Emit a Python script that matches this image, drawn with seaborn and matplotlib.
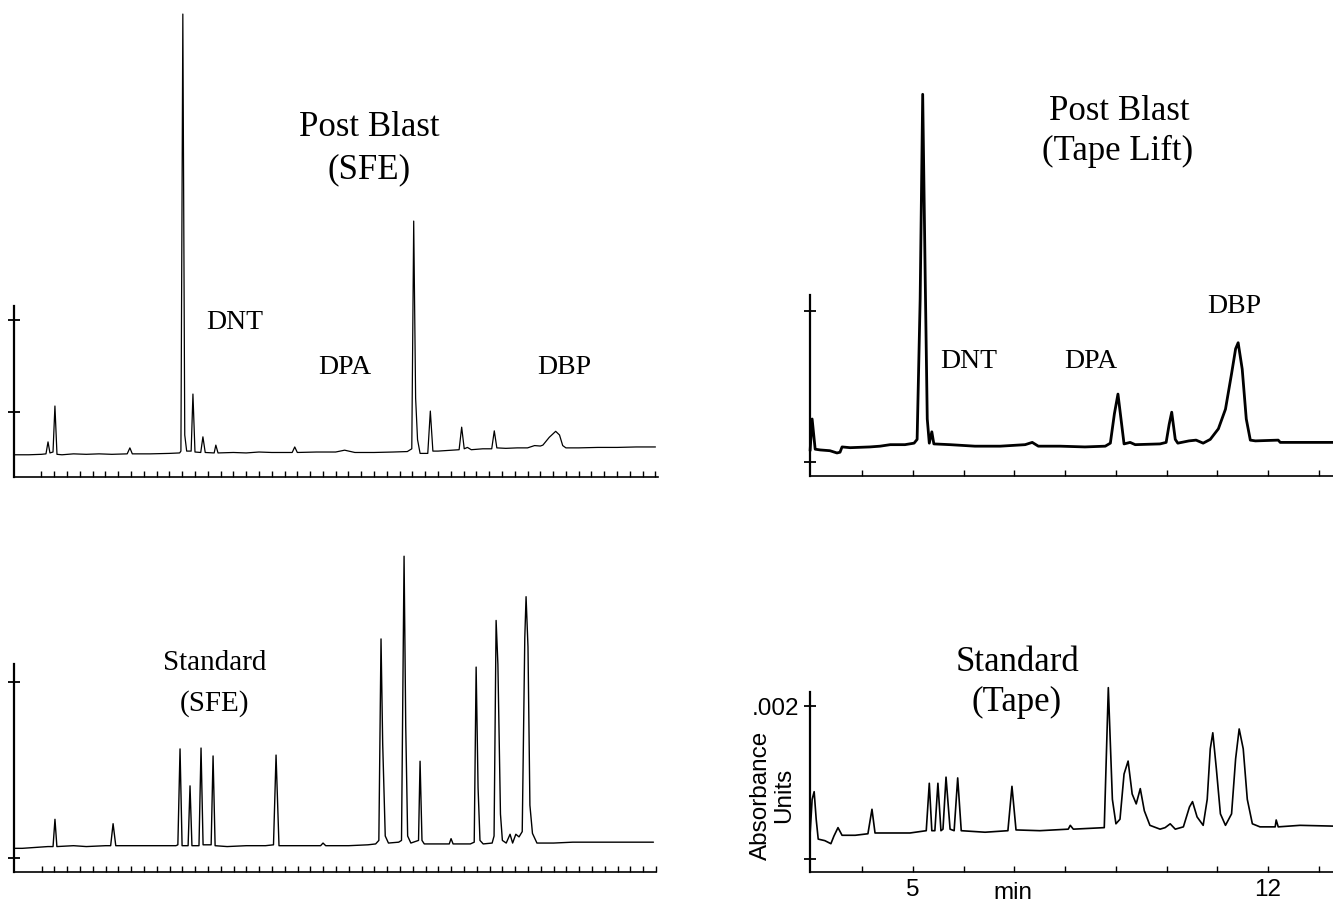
import matplotlib
matplotlib.use("Agg")
import matplotlib.pyplot as plt
import seaborn as sns

# ---- data ----
# SFE runs: x in tick units (one small tick = 1), y in relative mAU (lower y tick = 0, upper = 2)
sfe_blast_t = [-2.15, -1.0, 0.0, 0.35, 0.51, 0.66, 0.90, 1.05, 1.21, 1.6, 2.5, 3.5, 4.5, 5.5,
               6.7, 6.91, 7.1, 8.5, 10.0, 10.8, 10.9, 11.05, 11.2, 11.35, 11.7, 11.84, 12.0,
               12.45, 12.62, 12.8, 13.5, 13.63, 13.8, 15.0, 16.0, 17.0, 18.0, 19.6, 19.8, 20.0,
               21.5, 23.0, 23.7, 24.5, 26.0, 27.5, 28.6, 28.95, 29.1, 29.25, 29.4, 29.6, 30.2,
               30.4, 30.6, 31.0, 32.65, 32.85, 33.05, 33.3, 33.6, 34.5, 35.2, 35.4, 35.6, 36.3,
               37.2, 38.0, 38.55, 39.0, 39.2, 39.7, 40.2, 40.5, 40.75, 41.0, 42.0, 43.5, 45.0,
               46.5, 48.0]
sfe_blast_y = [-0.93, -0.93, -0.92, -0.91, -0.65, -0.89, -0.87, 0.13, -0.92, -0.93, -0.91, -0.92,
               -0.91, -0.92, -0.91, -0.78, -0.91, -0.91, -0.90, -0.89, -0.85, 8.65, -0.5, -0.85,
               -0.85, 0.39, -0.87, -0.88, -0.54, -0.88, -0.89, -0.72, -0.89, -0.88, -0.89, -0.87,
               -0.88, -0.88, -0.76, -0.88, -0.87, -0.87, -0.83, -0.88, -0.88, -0.87, -0.86, -0.80,
               4.15, 0.3, -0.6, -0.9, -0.9, 0.02, -0.85, -0.85, -0.82, -0.33, -0.80, -0.77, -0.82,
               -0.80, -0.80, -0.41, -0.78, -0.79, -0.78, -0.78, -0.73, -0.74, -0.72, -0.55, -0.42,
               -0.50, -0.73, -0.78, -0.78, -0.77, -0.77, -0.76, -0.76]

sfe_std_t = [-2.15, -1.5, -0.5, 0.5, 0.9, 1.05, 1.2, 2.5, 3.5, 5.0, 5.4, 5.59, 5.8, 7.0, 8.5,
             10.5, 10.65, 10.82, 10.98, 11.45, 11.60, 11.75, 12.3, 12.46, 12.62, 13.25, 13.40,
             13.56, 14.5, 16.0, 17.5, 18.12, 18.32, 18.55, 19.5, 21.0, 21.8, 21.99, 22.2, 24.0,
             25.5, 26.1, 26.35, 26.52, 26.65, 26.85, 27.1, 27.9, 28.12, 28.32, 28.45, 28.6,
             28.85, 29.45, 29.57, 29.72, 29.9, 31.0, 31.85, 31.99, 32.15, 33.5, 33.8, 33.95,
             34.1, 34.25, 34.5, 35.2, 35.35, 35.51, 35.65, 35.85, 36.0, 36.3, 36.6, 36.8, 37.05,
             37.3, 37.55, 37.75, 37.85, 38.0, 38.15, 38.35, 38.7, 40.0, 41.5, 43.0, 44.5, 46.0,
             47.8]
sfe_std_y = [0.11, 0.11, 0.12, 0.13, 0.13, 0.44, 0.13, 0.14, 0.13, 0.14, 0.14, 0.39, 0.14, 0.14,
             0.14, 0.14, 0.15, 1.24, 0.14, 0.14, 0.82, 0.14, 0.14, 1.25, 0.15, 0.15, 1.16, 0.14,
             0.13, 0.14, 0.14, 0.15, 1.17, 0.14, 0.14, 0.14, 0.14, 0.17, 0.14, 0.14, 0.15, 0.16,
             0.20, 2.49, 1.3, 0.25, 0.17, 0.18, 0.2, 3.43, 1.5, 0.25, 0.17, 0.2, 1.10, 0.2, 0.16,
             0.16, 0.16, 0.22, 0.16, 0.16, 0.18, 2.17, 0.8, 0.2, 0.16, 0.17, 0.25, 2.70, 2.2,
             0.5, 0.2, 0.17, 0.27, 0.17, 0.27, 0.24, 0.30, 2.5, 2.97, 2.4, 0.6, 0.28, 0.17, 0.17,
             0.18, 0.18, 0.18, 0.18, 0.18]

# Tape runs: x in minutes, y in mAU (upper tick = .002 AU)
tape_blast_t = [2.97, 3.01, 3.07, 3.17, 3.36, 3.50, 3.56, 3.60, 3.76, 4.15, 4.35, 4.55, 4.84,
                5.02, 5.08, 5.14, 5.19, 5.24, 5.28, 5.32, 5.37, 5.41, 5.73, 6.22, 6.72, 7.21,
                7.35, 7.47, 7.90, 8.39, 8.79, 8.89, 8.97, 9.04, 9.10, 9.16, 9.28, 9.38, 9.87,
                9.99, 10.05, 10.10, 10.17, 10.22, 10.44, 10.58, 10.72, 10.86, 11.02, 11.16, 11.28,
                11.36, 11.41, 11.49, 11.57, 11.65, 11.75, 12.20, 12.24, 12.63, 13.28]
tape_blast_y = [0.15, 0.57, 0.17, 0.16, 0.15, 0.12, 0.13, 0.20, 0.19, 0.20, 0.21, 0.23, 0.23,
                0.25, 0.30, 2.16, 4.87, 2.42, 0.57, 0.25, 0.40, 0.24, 0.23, 0.21, 0.21, 0.23,
                0.26, 0.21, 0.21, 0.20, 0.21, 0.25, 0.64, 0.90, 0.57, 0.24, 0.26, 0.23, 0.24,
                0.26, 0.50, 0.66, 0.30, 0.25, 0.28, 0.29, 0.25, 0.30, 0.44, 0.70, 1.17, 1.50,
                1.58, 1.23, 0.57, 0.29, 0.28, 0.29, 0.26, 0.26, 0.26]

tape_std_t = [2.97, 3.01, 3.05, 3.09, 3.13, 3.26, 3.38, 3.44, 3.52, 3.60, 3.86, 4.11, 4.19, 4.25,
              4.55, 4.94, 5.26, 5.32, 5.37, 5.43, 5.49, 5.55, 5.59, 5.65, 5.73, 5.81, 5.88, 5.95,
              6.42, 6.87, 6.95, 7.03, 7.50, 8.06, 8.10, 8.16, 8.77, 8.85, 8.93, 9.00, 9.08, 9.16,
              9.24, 9.32, 9.40, 9.48, 9.56, 9.67, 9.87, 9.97, 10.07, 10.17, 10.33, 10.45, 10.51,
              10.60, 10.72, 10.80, 10.86, 10.91, 10.98, 11.06, 11.16, 11.28, 11.36, 11.43, 11.51,
              11.59, 11.69, 11.84, 12.14, 12.16, 12.20, 12.63, 13.28]
tape_std_y = [0.33, 0.78, 0.88, 0.52, 0.26, 0.24, 0.20, 0.30, 0.41, 0.31, 0.31, 0.33, 0.65, 0.34,
              0.34, 0.34, 0.37, 0.99, 0.37, 0.37, 0.99, 0.37, 0.39, 1.07, 0.39, 0.37, 1.06, 0.37,
              0.35, 0.37, 0.95, 0.38, 0.37, 0.39, 0.44, 0.39, 0.41, 2.24, 0.78, 0.46, 0.52, 1.11,
              1.28, 0.85, 0.72, 0.92, 0.63, 0.44, 0.39, 0.41, 0.46, 0.39, 0.42, 0.68, 0.75, 0.55,
              0.44, 0.78, 1.44, 1.65, 1.18, 0.59, 0.44, 0.59, 1.31, 1.70, 1.44, 0.78, 0.46, 0.42,
              0.42, 0.51, 0.42, 0.44, 0.43]

sfe_ticks = list(range(0, 49))
tape_ticks = list(range(4, 14))
tape_tick_labels = ["", "5", "", "", "", "", "", "", "12", ""]

sns.set_theme(style="white")
plt.rcParams["font.family"] = ["Liberation Serif", "DejaVu Serif"]
plt.rcParams["text.color"] = "black"
plt.rcParams["xtick.color"] = "black"
plt.rcParams["ytick.color"] = "black"
SANS = ["Liberation Sans", "DejaVu Sans"]

W, H = 1333, 903
fig = plt.figure(figsize=(W / 100, H / 100), dpi=100)
fig.patch.set_facecolor("white")


def px_axes(left, top, right, bottom):
    return fig.add_axes([left / W, 1 - bottom / H, (right - left) / W, (bottom - top) / H])


def draw_panel(ax, t, y, lw, xlim, ylim, xticks):
    sns.lineplot(x=t, y=y, ax=ax, color="black", linewidth=lw, sort=False,
                 estimator=None, clip_on=False)
    ax.set_xlim(xlim)
    ax.set_ylim(ylim)
    ax.set_xlabel("")
    ax.set_ylabel("")
    ax.patch.set_visible(False)
    for s in ["top", "right"]:
        ax.spines[s].set_visible(False)
    ax.spines["left"].set_color("black")
    ax.spines["bottom"].set_color("black")
    ax.spines["left"].set_linewidth(1.6)
    ax.spines["bottom"].set_linewidth(1.2)
    ax.set_xticks(xticks)
    ax.set_yticks([0, 2])
    ax.tick_params(axis="x", direction="in", length=4, width=1, colors="black",
                   labelbottom=False, bottom=True)
    ax.tick_params(axis="y", direction="inout", length=8, width=1.3, colors="black",
                   labelleft=False, left=True)


# top-left: Post Blast (SFE)
ax1 = px_axes(14, 307, 658, 478)
draw_panel(ax1, sfe_blast_t, sfe_blast_y, 0.9, (-2.15, 48.2), (-1.413, 2.304), sfe_ticks)
ax1.text(25.6, 6.20, "Post Blast", fontsize=25, ha="center", va="center")
ax1.text(25.6, 5.28, "(SFE)", fontsize=25, ha="center", va="center")
ax1.text(15.1, 1.96, "DNT", fontsize=20, ha="center", va="center")
ax1.text(23.7, 0.98, "DPA", fontsize=20, ha="center", va="center")
ax1.text(40.9, 0.98, "DBP", fontsize=20, ha="center", va="center")

# bottom-left: Standard (SFE)
ax2 = px_axes(14, 665, 656, 873)
draw_panel(ax2, sfe_std_t, sfe_std_y, 1.0, (-2.15, 48.0), (-0.159, 2.205), sfe_ticks)
ax2.text(13.5, 2.23, "Standard", fontsize=21, ha="center", va="center")
ax2.text(13.5, 1.77, "(SFE)", fontsize=21, ha="center", va="center")

# top-right: Post Blast (Tape Lift)
ax3 = px_axes(810, 296, 1333, 477)
draw_panel(ax3, tape_blast_t, tape_blast_y, 2.0, (2.968, 13.28), (-0.185, 2.212), tape_ticks)
ax3.text(9.06, 4.65, "Post Blast", fontsize=25, ha="center", va="center")
ax3.text(9.04, 4.12, "(Tape Lift)", fontsize=25, ha="center", va="center")
ax3.text(6.10, 1.34, "DNT", fontsize=20, ha="center", va="center")
ax3.text(8.51, 1.34, "DPA", fontsize=20, ha="center", va="center")
ax3.text(11.33, 2.07, "DBP", fontsize=20, ha="center", va="center")

# bottom-right: Standard (Tape) with axis labels
ax4 = px_axes(810, 693, 1333, 873)
draw_panel(ax4, tape_std_t, tape_std_y, 1.2, (2.968, 13.28), (-0.170, 2.183), tape_ticks)
ax4.set_xticklabels(tape_tick_labels)
ax4.set_yticklabels(["", ".002"])
ax4.tick_params(axis="x", labelbottom=True, pad=4.5, labelsize=17.5, labelcolor="black")
ax4.tick_params(axis="y", labelleft=True, pad=4, labelsize=17.5, labelcolor="black")
for lab in ax4.get_xticklabels() + ax4.get_yticklabels():
    lab.set_family(SANS)
ax4.text(6.97, -0.111, "min", fontsize=17.5, family=SANS, ha="center", va="center",
         transform=ax4.get_xaxis_transform())
ax4.text(-0.072, 0.43, "Absorbance\nUnits", fontsize=17.5, family=SANS, rotation=90,
         ha="center", va="center", linespacing=1.05, transform=ax4.transAxes)
ax4.text(7.05, 2.58, "Standard", fontsize=25, ha="center", va="center")
ax4.text(7.05, 2.06, "(Tape)", fontsize=25, ha="center", va="center")

fig.savefig("out.png", dpi=100, facecolor="white")
